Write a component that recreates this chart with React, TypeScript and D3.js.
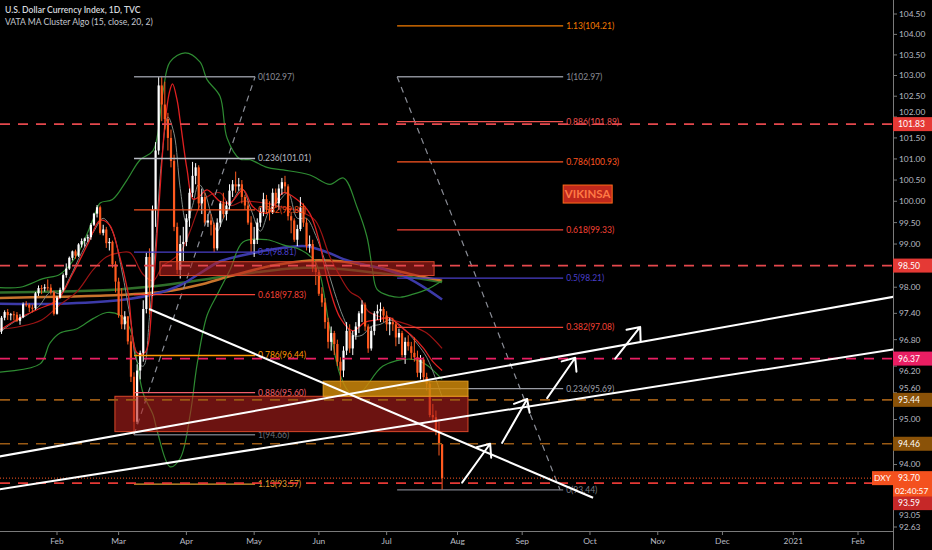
import * as d3 from 'd3'

const START = '2020-01-06'

// daily DXY bars [open, high, low, close], one per weekday from START
const candles: [number, number, number, number][] = [
  [96.85, 96.9, 96.36, 96.66], [96.66, 97.04, 96.6, 96.99], [96.99, 97.34, 96.93, 97.3], [97.3, 97.47, 97.24, 97.43], [97.43, 97.5, 97.25, 97.36],
  [97.36, 97.41, 97.24, 97.38], [97.38, 97.45, 97.24, 97.37], [97.37, 97.43, 97.2, 97.23], [97.23, 97.38, 97.14, 97.31], [97.31, 97.65, 97.29, 97.61],
  [97.61, 97.68, 97.55, 97.6], [97.6, 97.63, 97.43, 97.53], [97.53, 97.6, 97.42, 97.52], [97.52, 97.89, 97.48, 97.86], [97.86, 98.04, 97.8, 97.98],
  [97.98, 98.05, 97.84, 97.97], [97.97, 98.07, 97.9, 98.0], [98.0, 98.18, 97.92, 97.99], [97.99, 98.07, 97.83, 97.88], [97.88, 97.92, 97.35, 97.39],
  [97.39, 97.8, 97.37, 97.76], [97.76, 97.99, 97.74, 97.94], [97.94, 98.32, 97.9, 98.28], [98.28, 98.55, 98.22, 98.43], [98.43, 98.71, 98.4, 98.68],
  [98.68, 98.85, 98.62, 98.83], [98.83, 98.87, 98.66, 98.73], [98.73, 99.02, 98.7, 98.99], [98.99, 99.13, 98.92, 99.07], [99.07, 99.15, 98.94, 99.13],
  [99.13, 99.22, 99.05, 99.16], [99.16, 99.49, 99.1, 99.45], [99.45, 99.73, 99.42, 99.71], [99.71, 99.91, 99.62, 99.86], [99.86, 99.9, 99.22, 99.26],
  [99.26, 99.45, 99.2, 99.34], [99.34, 99.4, 98.91, 99.02], [99.02, 99.14, 98.85, 99.05], [99.05, 99.08, 98.45, 98.53], [98.53, 98.6, 97.88, 98.13],
  [98.13, 98.22, 97.3, 97.36], [97.36, 97.98, 97.04, 97.15], [97.15, 97.45, 97.03, 97.33], [97.33, 97.34, 96.69, 96.76], [96.76, 96.9, 95.84, 95.96],
  [95.96, 96.06, 94.66, 94.95], [94.95, 96.24, 94.9, 96.1], [96.1, 96.55, 95.9, 96.5], [96.5, 97.7, 96.3, 97.5], [97.5, 98.8, 97.4, 98.7],
  [98.7, 98.9, 97.38, 98.0], [98.0, 99.9, 97.8, 99.8], [99.8, 101.4, 99.4, 101.2], [101.2, 102.97, 101.1, 102.76], [102.76, 102.99, 101.9, 102.3],
  [102.3, 102.85, 101.7, 101.95], [101.95, 102.1, 101.2, 101.5], [101.5, 101.7, 100.8, 100.95], [100.95, 101.1, 99.3, 99.4], [99.4, 99.5, 98.3, 98.4],
  [98.4, 99.2, 98.2, 99.0], [99.0, 99.4, 98.6, 99.05],
  [99.05, 99.7, 98.95, 99.6], [99.6, 100.3, 99.4, 100.2], [100.2, 100.93, 100.1, 100.6], [100.6, 100.9, 100.4, 100.8], [100.8, 100.85, 99.8, 99.95],
  [99.95, 100.3, 99.7, 100.1], [100.1, 100.2, 99.45, 99.5], [99.5, 99.7, 99.4, 99.55], [99.55, 99.7, 99.2, 99.45], [99.45, 99.5, 98.81, 98.9],
  [98.9, 99.6, 98.85, 99.5], [99.5, 100.0, 99.4, 99.95], [99.95, 100.2, 99.6, 99.7], [99.7, 100.0, 99.55, 99.9], [99.9, 100.4, 99.8, 100.25],
  [100.25, 100.5, 100.1, 100.4], [100.4, 100.7, 100.2, 100.35], [100.35, 100.55, 100.25, 100.4], [100.4, 100.5, 99.95, 100.1], [100.1, 100.15, 99.8, 99.9],
  [99.9, 100.0, 99.45, 99.5], [99.5, 99.65, 98.8, 99.0],
  [99.0, 99.4, 98.7, 99.1], [99.1, 99.6, 99.0, 99.5], [99.5, 99.85, 99.4, 99.75], [99.75, 100.2, 99.65, 100.05], [100.05, 100.15, 99.7, 99.8],
  [99.8, 100.0, 99.55, 99.75], [99.75, 100.3, 99.7, 100.2], [100.2, 100.3, 99.85, 99.95], [99.95, 100.4, 99.8, 100.3], [100.3, 100.55, 100.15, 100.45],
  [100.45, 100.6, 100.2, 100.35], [100.35, 100.4, 99.55, 99.65], [99.65, 99.75, 99.25, 99.55], [99.55, 99.6, 99.05, 99.1], [99.1, 99.45, 98.95, 99.35],
  [99.35, 100.1, 99.3, 99.85], [99.85, 99.95, 99.4, 99.5], [99.5, 99.6, 98.85, 98.95], [98.95, 99.2, 98.8, 99.0], [99.0, 99.1, 98.35, 98.45],
  [98.45, 98.6, 98.05, 98.35],
  [98.35, 98.4, 97.8, 97.85], [97.85, 98.0, 97.55, 97.65], [97.65, 97.75, 97.05, 97.2], [97.2, 97.3, 96.6, 96.75], [96.75, 97.1, 96.55, 96.95],
  [96.95, 97.0, 96.45, 96.7], [96.7, 96.8, 96.2, 96.3], [96.3, 96.4, 95.72, 96.1], [96.1, 96.65, 95.95, 96.55], [96.55, 97.2, 96.45, 97.0],
  [97.0, 97.15, 96.5, 96.6], [96.6, 97.0, 96.45, 96.9], [96.9, 97.2, 96.8, 97.1], [97.1, 97.45, 96.95, 97.4], [97.4, 97.7, 97.2, 97.6],
  [97.6, 97.65, 97.0, 97.1], [97.1, 97.15, 96.5, 96.6], [96.6, 97.1, 96.55, 97.0], [97.0, 97.45, 96.9, 97.4], [97.4, 97.6, 97.25, 97.45],
  [97.45, 97.65, 97.2, 97.5], [97.5, 97.55, 97.2, 97.35],
  [97.35, 97.45, 97.0, 97.15], [97.15, 97.3, 96.9, 97.2], [97.2, 97.3, 97.0, 97.15], [97.15, 97.2, 96.65, 96.85], [96.85, 97.05, 96.7, 96.95],
  [96.95, 97.0, 96.4, 96.45], [96.45, 96.85, 96.25, 96.75], [96.75, 96.9, 96.55, 96.65], [96.65, 96.75, 96.35, 96.5], [96.5, 96.85, 96.3, 96.4],
  [96.4, 96.55, 95.95, 96.05], [96.05, 96.45, 95.9, 96.35], [96.35, 96.4, 95.85, 95.95], [95.95, 96.05, 95.65, 95.8], [95.8, 95.85, 95.05, 95.1],
  [95.1, 95.35, 94.95, 95.05], [95.05, 95.2, 94.65, 94.75], [94.75, 94.95, 94.2, 94.45], [94.45, 94.45, 93.44, 93.7],
]

// indicator lines: [bar index, price]
const bbUpper: [number, number][] = [
  [0, 98.0], [8, 98.0], [15.5, 98.2], [21, 98.3], [26.5, 98.75], [31.7, 99.57], [34, 99.96], [38, 100.04], [42.7, 100.5],
  [47, 100.98], [51.2, 101.2], [54.4, 102.6], [56.7, 103.33], [61.6, 103.55], [66.4, 103.33], [68.7, 102.9], [72.9, 102.5],
  [75.2, 101.5], [79.4, 101.0], [82.7, 100.98], [88.2, 100.8], [93.4, 100.74], [102.1, 100.62], [108.6, 100.4], [113, 100.55],
  [117.4, 99.86], [120.6, 99.17], [122.3, 98.46], [123.9, 97.95], [128.1, 97.8], [131.4, 97.77], [135.6, 97.84], [140.1, 97.95], [145, 98.15],
]
const bbLower: [number, number][] = [
  [0, 96.06], [14.5, 96.25], [17.7, 96.72], [21, 96.95], [26.5, 97.05], [31.7, 97.28], [36.2, 97.42], [40.5, 97.35], [43.7, 97.05],
  [47.9, 95.6], [51.2, 95.1], [52.5, 94.75], [56.7, 93.95], [60, 94.14], [63.2, 95.1], [65.5, 96.25], [68.7, 97.35], [72, 97.83],
  [76.2, 98.41], [80.4, 99.05], [88.2, 99.1], [93.4, 98.98], [98.9, 98.87], [103.8, 98.59], [108.6, 97.04], [111.9, 96.0],
  [115.1, 95.6], [118.4, 95.6], [125.8, 96.2], [134.6, 96.36], [139.5, 96.25], [145, 95.9],
]
const bbBasis: [number, number][] = [
  [0, 97.03], [8, 97.1], [15, 97.25], [21, 97.6], [26.5, 97.9], [31.7, 98.4], [36, 98.7], [40.5, 98.8], [43.7, 98.8],
  [47.9, 98.3], [51.2, 98.15], [54.4, 98.5], [56.7, 98.6], [60, 98.8], [63.2, 99.3], [66.4, 99.9], [68.7, 100.1], [72.9, 100.2],
  [76.2, 99.9], [80.4, 100.0], [88.2, 99.95], [93.4, 99.86], [98.9, 99.76], [103.8, 99.55], [108.6, 98.7], [111.9, 98.25],
  [115.1, 97.9], [118.4, 97.75], [121, 97.45], [125.8, 97.3], [131.4, 97.2], [135.6, 97.1], [140, 96.95], [145, 96.6],
]
const maFast: [number, number][] = [
  [0, 96.95], [8, 97.3], [14, 97.5], [20, 97.7], [25, 98.3], [30, 99.0], [34, 99.55], [37, 99.45], [40, 98.8], [43, 97.9],
  [46, 96.5], [48.5, 96.5], [51, 97.8], [53, 99.8], [55, 101.8], [56.5, 102.6], [57.5, 102.8], [59, 102.4], [60, 101.9],
  [62.2, 100.75], [64.2, 100.05], [66, 100.1], [68.7, 100.27], [72.9, 100.0], [76.2, 99.96], [80.4, 100.27], [83.6, 99.87],
  [88.2, 99.72], [93.4, 100.2], [97.9, 100.04], [102, 99.72], [105, 99.1], [108, 98.1], [111.9, 97.3], [116, 97.0], [120, 97.2],
  [124, 97.25], [128, 97.3], [131.4, 97.1], [135, 96.9], [139, 96.6], [142, 96.3], [145, 96.1],
]
const maGrey: [number, number][] = [
  [0, 96.9], [6, 97.2], [10, 97.35], [14, 97.55], [18, 97.9], [21, 97.85], [24, 98.2], [28, 98.8], [32, 99.3], [35, 99.6],
  [38, 99.3], [41, 98.4], [44, 97.2], [46, 96.3], [48, 96.2], [50, 97.3], [52, 99.0], [54, 101.0], [56, 102.0], [58, 101.6],
  [60, 100.3], [62, 99.5], [64, 99.9], [66, 100.4], [68, 100.2], [70, 99.7], [72, 99.3], [74, 99.6], [77, 100.0], [80, 100.3],
  [83, 99.8], [86, 99.3], [89, 99.8], [92, 100.0], [95, 100.2], [98, 99.6], [101, 99.6], [104, 99.2], [107, 98.6], [110, 97.9],
  [113, 97.3], [116, 96.9], [119, 96.9], [122, 97.1], [125, 97.15], [128, 97.25], [131, 97.15], [134, 96.95], [137, 96.7],
  [140, 96.4], [143, 95.9], [145, 95.5],
]
const maBlue: [number, number][] = [
  [0, 97.62], [20, 97.62], [40, 97.7], [52, 97.85], [60, 98.05], [67, 98.35], [73, 98.6], [83, 98.78], [95, 98.93], [101, 98.95],
  [108, 98.8], [113, 98.65], [118, 98.55], [126, 98.42], [132, 98.28], [138, 98.05], [145, 97.72],
]
const maOrange: [number, number][] = [
  [0, 97.75], [20, 97.78], [40, 97.82], [55, 97.9], [66, 98.05], [76, 98.25], [90, 98.5], [102, 98.62], [112, 98.6],
  [122, 98.48], [130, 98.38], [138, 98.25], [145, 98.15],
]
const maGreen: [number, number][] = [
  [0, 97.88], [20, 97.9], [40, 97.95], [55, 98.05], [70, 98.2], [85, 98.35], [100, 98.45], [112, 98.42], [125, 98.32],
  [136, 98.22], [145, 98.12],
]

// fib retracements
const fibRatios1 = [0, 0.236, 0.382, 0.5, 0.618, 0.786, 0.886, 1, 1.13]
const fibPrices1 = [102.97, 101.01, 99.8, 98.81, 97.83, 96.44, 95.6, 94.66, 93.57]
const fibBars1: [number, number] = [45, 84.3]
const fibRatios2 = [1.13, 1, 0.886, 0.786, 0.618, 0.5, 0.382, 0.236, 0]
const fibPrices2 = [104.21, 102.97, 101.89, 100.93, 99.33, 98.21, 97.08, 95.69, 93.44]
const fibBars2: [number, number] = [130.4, 184.3]

// horizontal levels
const levelPrices = [101.83, 98.5, 96.37, 95.44, 94.46, 93.59]
const lastPrice = 93.7

// zones [bar from, bar to, price top, price bottom]
const zones: [number, number, number, number][] = [
  [53.4, 142.4, 98.59, 98.27],
  [38.8, 153.4, 95.52, 94.73],
  [106.4, 153.4, 95.86, 95.52],
]

// trend lines [bar1, price1, bar2, price2]
const trendLines: [number, number, number, number][] = [
  [49.9, 97.5, 194, 93.27],
  [-1, 94.15, 291.5, 97.78],
  [-1, 93.43, 291.5, 96.58],
]
const arrows: [number, number, number, number][] = [
  [151.5, 93.6, 160.6, 94.46],
  [164.5, 94.48, 172.6, 95.46],
  [179.1, 95.48, 188.2, 96.39],
  [201.2, 96.37, 209.3, 97.09],
]

const yTicks = [104.5, 104, 103.5, 103, 102.5, 102, 101.5, 101, 100.5, 100, 99.5, 99, 98, 97.4, 96.8, 96.2, 95.6, 95, 94, 93.05, 92.63]
const monthLabels = ['Feb', 'Mar', 'Apr', 'May', 'Jun', 'Jul', 'Aug', 'Sep', 'Oct', 'Nov', 'Dec', '2021', 'Feb']
const monthDates = ['2020-02-03', '2020-03-02', '2020-04-01', '2020-05-01', '2020-06-01', '2020-07-01', '2020-08-03',
  '2020-09-01', '2020-10-01', '2020-11-02', '2020-12-01', '2021-01-01', '2021-02-01']

const FONT = 'Lato, "Open Sans", sans-serif'

function weekdayIndex(date: string) {
  const [y0, m0, d0] = START.split('-').map(Number)
  const [y1, m1, d1] = date.split('-').map(Number)
  const t = new Date(Date.UTC(y0, m0 - 1, d0))
  const end = Date.UTC(y1, m1 - 1, d1)
  let n = 0
  while (t.getTime() < end) {
    const wd = t.getUTCDay()
    if (wd !== 0 && wd !== 6) n++
    t.setUTCDate(t.getUTCDate() + 1)
  }
  return n
}

export default function App() {
  const W = 932
  const H = 550
  const plotR = 893
  const axisY = 531

  const x = d3.scaleLinear().domain([weekdayIndex('2020-02-03'), weekdayIndex('2021-02-01')]).range([57, 858])
  const y = d3.scaleLog().domain([92.63, 104.5]).range([527, 14])

  const curve = (pts: [number, number][]) =>
    d3.line<[number, number]>().x(d => x(d[0])).y(d => y(d[1])).curve(d3.curveCatmullRom)(pts) || ''

  const up = '#ffffff'
  const down = '#ff5a1f'

  const fibColors1 = ['#8a8d96', '#b8bbc4', '#f4511e', '#4a3fc8', '#f44336', '#ff9800', '#ef5f6b', '#6d707a', '#e0a030']
  const fibColors2 = ['#f57c00', '#8a8d96', '#ef5350', '#ff5722', '#f44336', '#4a3fc8', '#f44336', '#9a9da6', '#7a7d86']
  const levelColors = ['#e5484d', '#e5484d', '#e91e63', '#9a5a14', '#9a5a14', '#e53935']
  const boxColors = ['#e53935', '#e53935', '#e91e63', '#8a5208', '#8a5208', '#c62828']

  const countdownY = y(lastPrice) + 12.5
  const labelYs = levelPrices.map((p, i) => (i === levelPrices.length - 1 ? Math.max(y(p), countdownY + 12.5) : y(p)))
  const boxCenters = [...labelYs, y(lastPrice), countdownY]

  // keep axis tick texts clear of the coloured price boxes
  const tickY = (t: number) => {
    let ty = y(t)
    for (const b of boxCenters) {
      const d = ty - b
      if (Math.abs(d) < 12) ty = b + (d < 0 ? -12 : 12)
    }
    return ty
  }

  const arrowHead = (a: [number, number, number, number]) => {
    const x1 = x(a[0]), y1 = y(a[1]), x2 = x(a[2]), y2 = y(a[3])
    const ang = Math.atan2(y1 - y2, x1 - x2)
    const len = 14
    const sp = (40 * Math.PI) / 180
    const p1 = [x2 + Math.cos(ang - sp) * len, y2 + Math.sin(ang - sp) * len]
    const p2 = [x2 + Math.cos(ang + sp) * len, y2 + Math.sin(ang + sp) * len]
    return `M${x1},${y1}L${x2},${y2}M${p1[0]},${p1[1]}L${x2},${y2}L${p2[0]},${p2[1]}`
  }

  return (
    <div style={{ position: 'fixed', left: 0, top: 0 }}>
      <svg width={W} height={H} style={{ display: 'block', background: '#000' }} fontFamily={FONT}>
        <rect width={W} height={H} fill="#000" />
        <defs>
          <clipPath id="plot">
            <rect x={0} y={0} width={plotR} height={axisY} />
          </clipPath>
        </defs>

        <g clipPath="url(#plot)">
          {/* MA cluster */}
          <path d={curve(maGreen)} fill="none" stroke="#2f6e2a" strokeWidth={2.5} />
          <path d={curve(maOrange)} fill="none" stroke="#c8742c" strokeWidth={2.5} />
          <path d={curve(maBlue)} fill="none" stroke="#3c3aa8" strokeWidth={2.5} />
          <path d={curve(bbUpper)} fill="none" stroke="#2e8b32" strokeWidth={1.2} />
          <path d={curve(bbLower)} fill="none" stroke="#2e8b32" strokeWidth={1.2} />
          <path d={curve(bbBasis)} fill="none" stroke="#9b1414" strokeWidth={1.2} />
          <path d={curve(maGrey)} fill="none" stroke="#7f8a86" strokeWidth={1} />
          <path d={curve(maFast)} fill="none" stroke="#e02020" strokeWidth={1.3} />

          {/* candles */}
          {candles.map((c, i) => {
            const [o, h, l, cl] = c
            const col = cl >= o ? up : down
            const cx = x(i)
            const top = y(Math.max(o, cl))
            const bot = y(Math.min(o, cl))
            return (
              <g key={i}>
                <line x1={cx} x2={cx} y1={y(h)} y2={y(l)} stroke={col} strokeWidth={1} />
                <rect x={cx - 1.1} y={top} width={2.2} height={Math.max(1, bot - top)} fill={col} />
              </g>
            )
          })}

          {/* fib 1 */}
          <path d={`M${x(fibBars1[0])},${y(fibPrices1[7])}L${x(fibBars1[1])},${y(fibPrices1[0])}`}
            stroke="#8a8d96" strokeDasharray="6 5" strokeWidth={1.2} fill="none" />
          {fibPrices1.map((p, i) => (
            <g key={'f1' + i}>
              <line x1={x(fibBars1[0])} x2={x(fibBars1[1])} y1={y(p)} y2={y(p)} stroke={fibColors1[i]} strokeWidth={1.3} />
              <text x={x(fibBars1[1]) + 3} y={y(p)} dy="0.35em" fontSize={8.5} fill={fibColors1[i]}>
                {`${fibRatios1[i]}(${p.toFixed(2)})`}
              </text>
            </g>
          ))}

          {/* fib 2 */}
          <path d={`M${x(fibBars2[0])},${y(fibPrices2[1])}L${x(fibBars2[1] - 1)},${y(fibPrices2[8])}`}
            stroke="#8a8d96" strokeDasharray="6 5" strokeWidth={1.2} fill="none" />
          {fibPrices2.map((p, i) => (
            <g key={'f2' + i}>
              <line x1={x(fibBars2[0])} x2={x(fibBars2[1])} y1={y(p)} y2={y(p)} stroke={fibColors2[i]} strokeWidth={1.3} />
              <text x={x(fibBars2[1]) + 3} y={y(p)} dy="0.35em" fontSize={8.5} fill={fibColors2[i]}>
                {`${fibRatios2[i]}(${p.toFixed(2)})`}
              </text>
            </g>
          ))}

          {/* zones */}
          {zones.map((z, i) => (
            <rect key={'z' + i} x={x(z[0])} y={y(z[2])} width={x(z[1]) - x(z[0])} height={y(z[3]) - y(z[2])}
              fill={i === 2 ? 'rgba(205,135,10,0.85)' : 'rgba(180,32,28,0.6)'}
              stroke={i === 2 ? '#e09a20' : '#d8482a'} strokeWidth={1} />
          ))}

          {/* horizontal levels */}
          {levelPrices.map((p, i) => (
            <line key={'l' + i} x1={0} x2={plotR} y1={y(p)} y2={y(p)} stroke={levelColors[i]} strokeWidth={1.6} strokeDasharray="10 8" />
          ))}
          <line x1={0} x2={plotR} y1={y(lastPrice)} y2={y(lastPrice)} stroke="#ff5722" strokeWidth={1} strokeDasharray="1 2" />

          {/* trend lines */}
          {trendLines.map((t, i) => (
            <line key={'t' + i} x1={x(t[0])} y1={y(t[1])} x2={x(t[2])} y2={y(t[3])} stroke="#fff" strokeWidth={2} />
          ))}
          {arrows.map((a, i) => (
            <path key={'a' + i} d={arrowHead(a)} stroke="#fff" strokeWidth={2} fill="none" strokeLinecap="round" strokeLinejoin="round" />
          ))}

          {/* signature */}
          <rect x={x(184.3)} y={y(100.17) - 9} width={49} height={18} fill="#c0281c" stroke="#ff6a1a" strokeWidth={1} />
          <text x={x(184.3) + 24.5} y={y(100.17)} dy="0.36em" textAnchor="middle" fontSize={11.5} fontWeight={700} fill="#ff7a45">VIKINSA</text>
        </g>

        {/* title */}
        <text x={5} y={13} fontSize={8.6} fontWeight={600} fill="#d6d8de">U.S. Dollar Currency Index, 1D, TVC</text>
        <text x={5} y={24.5} fontSize={8.6} fill="#c4c7cf">VATA MA Cluster Algo (15, close, 20, 2)</text>

        {/* right axis */}
        <line x1={plotR + 0.5} x2={plotR + 0.5} y1={0} y2={H} stroke="#7a7a7a" strokeWidth={1} />
        {yTicks.map(t => (
          <g key={'yt' + t}>
            <line x1={plotR} x2={plotR + 4} y1={y(t)} y2={y(t)} stroke="#7a7a7a" />
            <text x={plotR + 6} y={tickY(t)} dy="0.35em" fontSize={8.4} fill="#b8bbc2">{t.toFixed(2)}</text>
          </g>
        ))}

        {/* bottom axis */}
        <line x1={0} x2={plotR} y1={axisY + 0.5} y2={axisY + 0.5} stroke="#7a7a7a" strokeWidth={1} />
        {monthLabels.map((m, i) => {
          const mx = x(weekdayIndex(monthDates[i]))
          return (
            <g key={'m' + i}>
              <line x1={mx} x2={mx} y1={axisY} y2={axisY + 4} stroke="#7a7a7a" />
              <text x={mx} y={544} textAnchor="middle" fontSize={8.4} fill="#b8bbc2">{m}</text>
            </g>
          )
        })}

        {/* price labels */}
        {levelPrices.map((p, i) => (
          <g key={'pl' + i}>
            <rect x={plotR} y={labelYs[i] - 7} width={W - plotR} height={14} fill={boxColors[i]} />
            <text x={plotR + 5} y={labelYs[i]} dy="0.36em" fontSize={8.6} fill="#fff">{p.toFixed(2)}</text>
          </g>
        ))}
        <rect x={872} y={y(lastPrice) - 7} width={21} height={14} fill="#f4511e" />
        <text x={882.5} y={y(lastPrice)} dy="0.36em" textAnchor="middle" fontSize={8.4} fill="#fff">DXY</text>
        <rect x={plotR} y={y(lastPrice) - 7} width={W - plotR} height={14} fill="#f4511e" />
        <text x={plotR + 5} y={y(lastPrice)} dy="0.36em" fontSize={8.6} fill="#fff">{lastPrice.toFixed(2)}</text>
        <rect x={plotR} y={countdownY - 6} width={W - plotR} height={12} fill="#f4511e" />
        <text x={plotR + 2} y={countdownY} dy="0.36em" fontSize={8.4} fill="#fff">02:40:57</text>
      </svg>
    </div>
  )
}
